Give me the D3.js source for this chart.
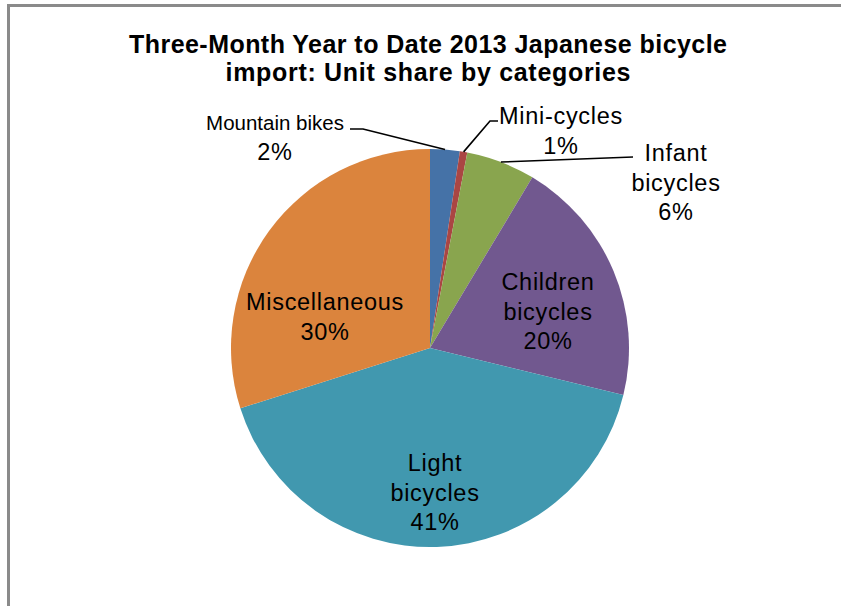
<!DOCTYPE html>
<html>
<head>
<meta charset="utf-8">
<script src="https://cdn.jsdelivr.net/npm/d3@7"></script>
<style>
  body { margin: 0; background: #fff; }
  svg { display: block; font-family: "Liberation Sans", Arial, sans-serif; }
</style>
</head>
<body>
<script>
"use strict";

// data (unit share, percent)
var categories = ["Mountain bikes", "Mini-cycles", "Infant bicycles", "Children bicycles", "Light bicycles", "Miscellaneous"];
var shares = [2.4, 0.6, 5.6, 20.2, 41.3, 29.9];
var labelLines = [
    ["Mountain bikes", "2%"],
    ["Mini-cycles", "1%"],
    ["Infant", "bicycles", "6%"],
    ["Children", "bicycles", "20%"],
    ["Light", "bicycles", "41%"],
    ["Miscellaneous", "30%"]
];
var colors = ["#4572A7", "#AA4643", "#89A54E", "#71588F", "#4198AF", "#DB843D"];
var titleLines = ["Three-Month Year to Date 2013 Japanese bicycle", "import: Unit share by categories"];
var titleWidths = [598, 405];

var widthEcran = 841, heightEcran = 606;
var cx = 430, cy = 348, radius = 199;

// label placement relative to pie centre (x centre, baseline of first line)
var labelLayout = [
    {x: -155, y: -218, leader: [[-67, -219], [-80, -219]]},
    {x: 131, y: -224, leader: [[60, -227], [68, -227]]},
    {x: 246, y: -187, leader: [[203, -191]]},
    {x: 118, y: -58},
    {x: 5, y: 123},
    {x: -105, y: -38}
];
var lineHeight = 29.5;

function baseCanvas() {
    var canvas = d3.select("body")
        .append("svg")
        .attr("width", widthEcran)
        .attr("height", heightEcran);
    canvas.append("path")
        .attr("d", "M8.5," + heightEcran + "V5.5H" + widthEcran)
        .attr("fill", "none")
        .attr("stroke", "#8a8a8a")
        .attr("stroke-width", 3);
    return canvas;
}

function baseTitle(canvas) {
    canvas.selectAll("text.title")
        .data(titleLines)
        .enter().append("text")
        .attr("class", "title")
        .attr("x", 428)
        .attr("y", function (d, i) { return 53 + i * 28; })
        .attr("text-anchor", "middle")
        .attr("font-size", "25px")
        .attr("font-weight", "bold")
        .attr("textLength", function (d, i) { return titleWidths[i]; })
        .attr("lengthAdjust", "spacing")
        .text(function (d) { return d; });
}

function basePie(canvas) {
    var pie = d3.pie().sort(null).value(function (d) { return d; });
    var arc = d3.arc().innerRadius(0).outerRadius(radius);
    var arcs = pie(shares);

    var g = canvas.append("g").attr("transform", "translate(" + cx + "," + cy + ")");
    g.selectAll("path.slice")
        .data(arcs)
        .enter().append("path")
        .attr("class", "slice")
        .attr("d", arc)
        .attr("fill", function (d, i) { return colors[i]; });

    // leader lines start at the rim at each slice's middle angle
    arcs.forEach(function (d, i) {
        var lay = labelLayout[i];
        if (!lay.leader) return;
        var a = (d.startAngle + d.endAngle) / 2;
        var pts = [[radius * Math.sin(a), -radius * Math.cos(a)]].concat(lay.leader);
        g.append("path")
            .attr("d", d3.line()(pts))
            .attr("fill", "none")
            .attr("stroke", "#000")
            .attr("stroke-width", 1.6);
    });

    labelLines.forEach(function (lines, i) {
        var lay = labelLayout[i];
        var t = g.append("text")
            .attr("text-anchor", "middle")
            .attr("fill", "#000");
        lines.forEach(function (s, j) {
            var small = (i === 0 && j === 0);
            t.append("tspan")
                .attr("x", lay.x)
                .attr("y", lay.y + j * lineHeight)
                .attr("font-size", small ? "20.5px" : "23.5px")
                .attr("letter-spacing", small ? "0px" : "0.7px")
                .text(s);
        });
    });
}

var canvas = baseCanvas();
baseTitle(canvas);
basePie(canvas);
</script>
</body>
</html>
